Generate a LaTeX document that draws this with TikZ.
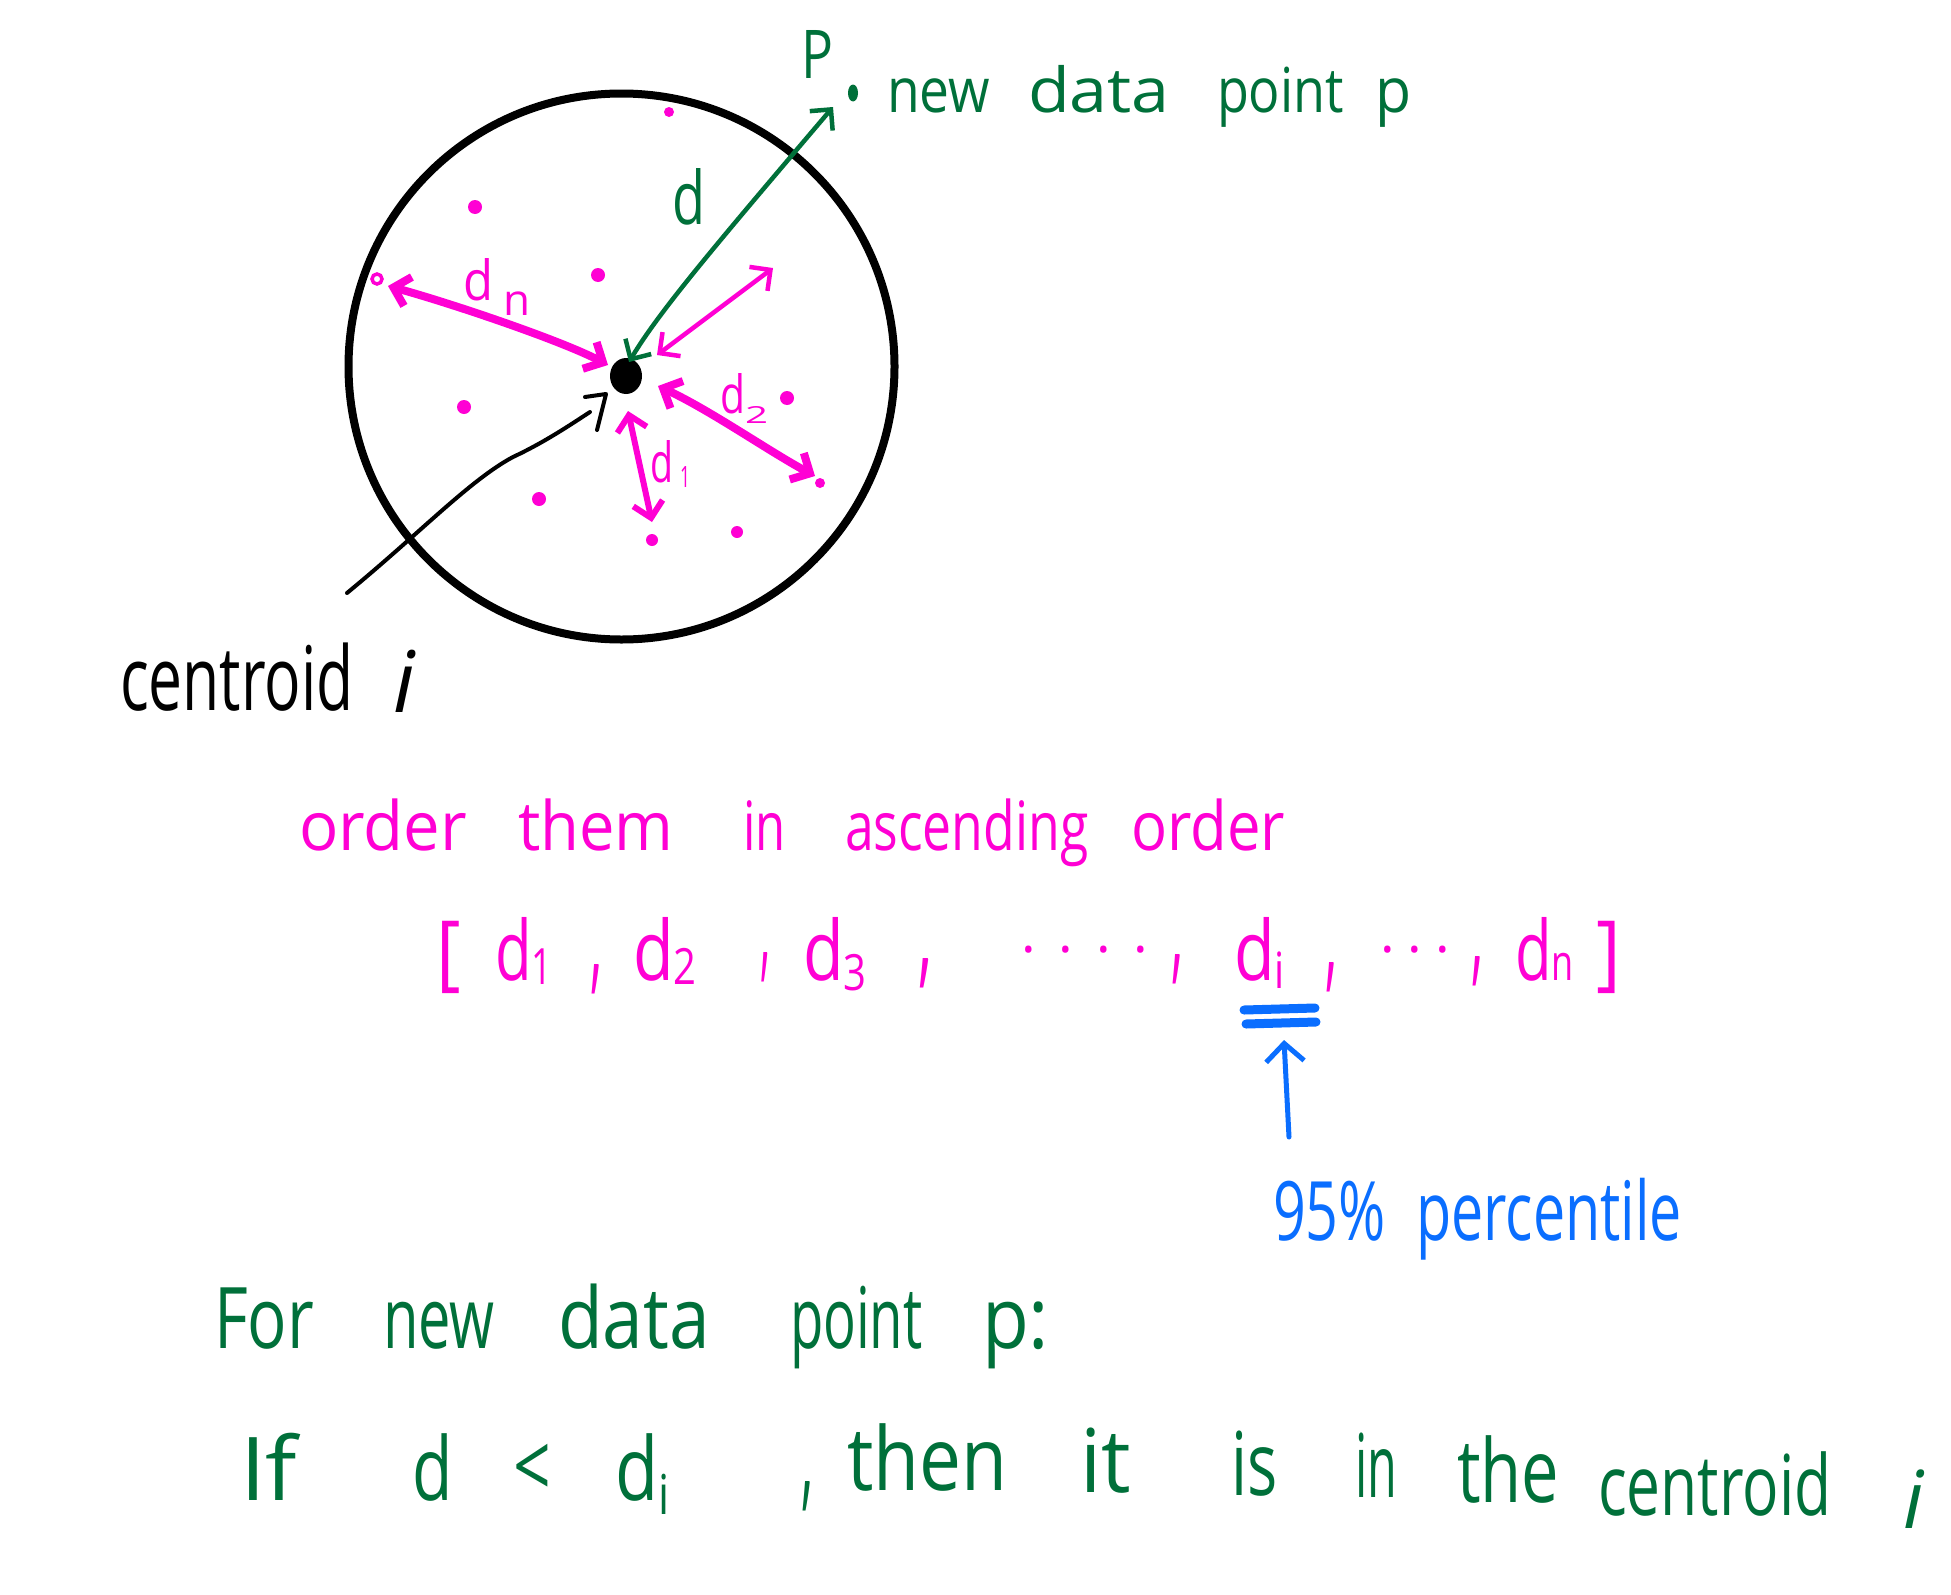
\documentclass[tikz,border=0pt]{standalone}
\usepackage{fontspec}
\setmainfont{Open Sans}
\usetikzlibrary{arrows.meta,shapes.geometric}
\definecolor{hpink}{HTML}{FF00D4}
\definecolor{hgreen}{HTML}{00703A}
\definecolor{hblue}{HTML}{0A6EFF}
\newcommand\fitw[3]{\resizebox{#1pt}{#2pt}{\vphantom{d}#3}}
\newcommand\fitc[3]{\resizebox{#1pt}{#2pt}{#3}}
\newcommand\hw[3]{\scalebox{#2}[1]{\fontsize{#1}{#1}\selectfont #3}}
\newcommand\lowsub[3]{{\fontsize{#1}{#1}\selectfont\raisebox{-#2pt}{#3}}}
\begin{document}
\begin{tikzpicture}[x=1pt,y=-1pt,
  txt/.style={anchor=base west,inner sep=0pt,outer sep=0pt},
  ptxt/.style={txt,text=hpink},
  gtxt/.style={txt,text=hgreen},
  btxt/.style={txt,text=hblue},
  ktxt/.style={txt,text=black},
  pdot/.style={circle,fill=hpink,inner sep=0pt,minimum size=#1},
  pdot/.default=14pt,
  hand/.style={line cap=round,line join=round},
  parrow/.style={hand,draw=hpink,<->,>={Straight Barb[length=15pt,width=30pt]}},
  garrow/.style={hand,draw=hgreen,line width=4.5pt,<->,>={Straight Barb[length=15pt,width=30pt]}},
  barrow/.style={hand,draw=hblue,line width=5pt,->,>={Straight Barb[length=18pt,width=38pt]}}
]
\fill[white] (0,0) rectangle (1951,1595);
\path[use as bounding box] (0,0) rectangle (1951,1595);

% cluster circle and centroid
\node[circle,draw=black,line width=8pt,minimum size=546pt,inner sep=0pt] (cluster) at (621.5,366.5) {};
\node[ellipse,fill=black,minimum width=32pt,minimum height=36pt,inner sep=0pt] (c) at (626,376) {};

% pink data points
\node[pdot=10pt] (q1) at (669,112) {};
\node[pdot] (q2) at (475,207) {};
\node[pdot] (q3) at (598,275) {};
\node[pdot] (q4) at (464,407) {};
\node[pdot] (q5) at (539,499) {};
\node[pdot=12pt] (q6) at (737,532) {};
\node[pdot] (q7) at (787,398) {};
\node[pdot=12pt] (q8) at (652,540) {};
\node[pdot=10pt] (q9) at (820,483) {};
\node[circle,draw=hpink,line width=3.5pt,minimum size=10pt,inner sep=0pt] (q10) at (377,279) {};

% arrow end coordinates
\coordinate (dnA) at (608,365);
\coordinate (dnB) at (388,286);
\coordinate (urA) at (657,355);
\coordinate (urB) at (773,268);
\coordinate (d2A) at (658,386);
\coordinate (d2B) at (815,476);
\coordinate (d1A) at (628,411);
\coordinate (d1B) at (652,522);
\coordinate (gA) at (629,362);
\coordinate (gB) at (833,107);

% pink distance arrows
\draw[parrow,line width=8pt] (dnA) .. controls (560,340) and (450,303) .. (dnB);
\draw[parrow,line width=4.5pt] (urA) -- (urB);
\draw[parrow,line width=8pt] (d2A) .. controls (710,410) and (770,452) .. (d2B);
\draw[parrow,line width=6pt] (d1A) -- (d1B);

% green arrow to new point
\node[ellipse,fill=hgreen,inner sep=0pt,minimum width=10pt,minimum height=17pt] (pnew) at (853,93) {};
\draw[garrow] (gA) .. controls (660,310) and (720,240) .. (gB);

% black pointer to centroid
\coordinate (ptrS) at (347,593);
\coordinate (ptrT) at (590,412);
\draw[hand,line width=4pt] (ptrS) .. controls (420,533) and (470,480) .. (513,457) .. controls (545,442) and (570,425) .. (ptrT);
\draw[hand,line width=4pt] (585,397) -- (606,394) -- (597,430);

% labels inside circle
\node[ptxt] (ldn) at (463,300) {\fitw{30}{42}{d}};
\node[ptxt] (ldnn) at (503,315) {\fitw{27}{33}{n}};
\node[ptxt] (ld2) at (720,413) {\fitw{25}{40}{d}};
\node[ptxt] (ld22) at (745,423) {\fitc{23}{17}{2}};
\node[ptxt] (ld1) at (650,482) {\fitw{23}{42}{d}};
\node[ptxt] (ld11) at (680,487) {\fitc{10}{21}{1}};
\node[gtxt] (lgd) at (672,224) {\fitw{33}{56}{d}};

% top label
\node[gtxt] (lP) at (801,78) {\fitc{32}{48}{P}};
\node[gtxt] (t1) at (887,112) {\hw{62}{0.86}{new}};
\node[gtxt] (t2) at (1028,112) {\hw{62}{1.1}{data}};
\node[gtxt] (t3) at (1217,112) {\hw{62}{0.84}{point}};
\node[gtxt] (t4) at (1375,112) {\hw{62}{0.95}{p}};

% centroid i
\node[ktxt] (ci1) at (120,710) {\hw{89}{0.68}{centroid}};
\node[ktxt] (ci2) at (393,712) {\hw{85}{1}{\itshape i}};

% order line
\node[ptxt] (o1) at (299,850) {\hw{68}{0.96}{order}};
\node[ptxt] (o2) at (518,850) {\hw{68}{0.93}{them}};
\node[ptxt] (o3) at (743,850) {\hw{68}{0.72}{in}};
\node[ptxt] (o4) at (845,850) {\hw{68}{0.76}{ascending}};
\node[ptxt] (o5) at (1131,850) {\hw{68}{0.88}{order}};

% list
\node[ptxt] (b1) at (436,980) {\hw{83}{0.9}{[}};
\node[ptxt] (e1) at (495,980) {\hw{83}{0.72}{d\lowsub{50}{4}{1}}};
\node[ptxt] (k1) at (590,978) {\fitc{12}{14}{,}};
\node[ptxt] (e2) at (633,980) {\hw{83}{0.8}{d\lowsub{50}{4}{2}}};
\node[ptxt] (k2) at (760,966) {\fitc{10}{14}{,}};
\node[ptxt] (e3) at (803,980) {\hw{83}{0.8}{d\lowsub{50}{10}{3}}};
\node[ptxt] (k3) at (918,972) {\fitc{14}{14}{,}};
\node[ptxt] (dots1) at (1021,952) {\fontsize{55}{55}\selectfont .\kern23pt.\kern23pt.\kern23pt.};
\node[ptxt] (k4) at (1171,968) {\fitc{12}{14}{,}};
\node[ptxt] (e4) at (1234,980) {\hw{83}{0.8}{d\lowsub{50}{8}{i}}};
\node[ptxt] (k5) at (1325,976) {\fitc{12}{14}{,}};
\node[ptxt] (dots2) at (1380,952) {\fontsize{55}{55}\selectfont .\kern13pt.\kern13pt.};
\node[ptxt] (k6) at (1471,970) {\fitc{12}{14}{,}};
\node[ptxt] (e5) at (1515,980) {\hw{83}{0.72}{d\lowsub{50}{0}{n}}};
\node[ptxt] (b2) at (1596,980) {\hw{83}{0.9}{]}};

% 95% marker
\draw[hand,hblue,line width=9pt] (1244,1010) -- (1315,1008);
\draw[hand,hblue,line width=9pt] (1246,1024) -- (1316,1022);
\coordinate (bl1) at (1289,1137);
\coordinate (bl2) at (1284,1040);
\draw[barrow] (bl1) -- (bl2);
\node[btxt] (pc1) at (1273,1240) {\hw{82}{0.7}{95\%}};
\node[btxt] (pc2) at (1416,1240) {\hw{82}{0.7}{percentile}};

% For new data point p:
\node[gtxt] (f1) at (214,1348) {\hw{85}{0.77}{For}};
\node[gtxt] (f2) at (383,1348) {\hw{85}{0.68}{new}};
\node[gtxt] (f3) at (558,1348) {\hw{85}{0.86}{data}};
\node[gtxt] (f4) at (790,1348) {\hw{85}{0.64}{point}};
\node[gtxt] (f5) at (982,1348) {\hw{85}{0.9}{p:}};

% If d < d_i, then it is in the centroid i
\node[gtxt] (g1) at (240,1500) {\hw{88}{1.05}{If}};
\node[gtxt] (g2) at (412,1500) {\hw{88}{0.75}{d}};
\node[gtxt] (g3) at (513,1497) {\hw{88}{0.75}{<}};
\node[gtxt] (g4) at (615,1500) {\hw{88}{0.8}{d\lowsub{55}{14}{i}}};
\node[gtxt] (g5) at (801,1495) {\fitc{12}{14}{,}};
\node[gtxt] (g6) at (847,1490) {\hw{88}{0.85}{then}};
\node[gtxt] (g7) at (1080,1492) {\hw{88}{0.95}{it}};
\node[gtxt] (g8) at (1231,1495) {\hw{88}{0.72}{is}};
\node[gtxt] (g9) at (1355,1497) {\hw{88}{0.55}{in}};
\node[gtxt] (g10) at (1457,1502) {\hw{88}{0.76}{the}};
\node[gtxt] (g11) at (1598,1515) {\hw{84}{0.72}{centroid}};
\node[gtxt] (g12) at (1903,1528) {\hw{80}{1}{\itshape i}};
\end{tikzpicture}
\end{document}
